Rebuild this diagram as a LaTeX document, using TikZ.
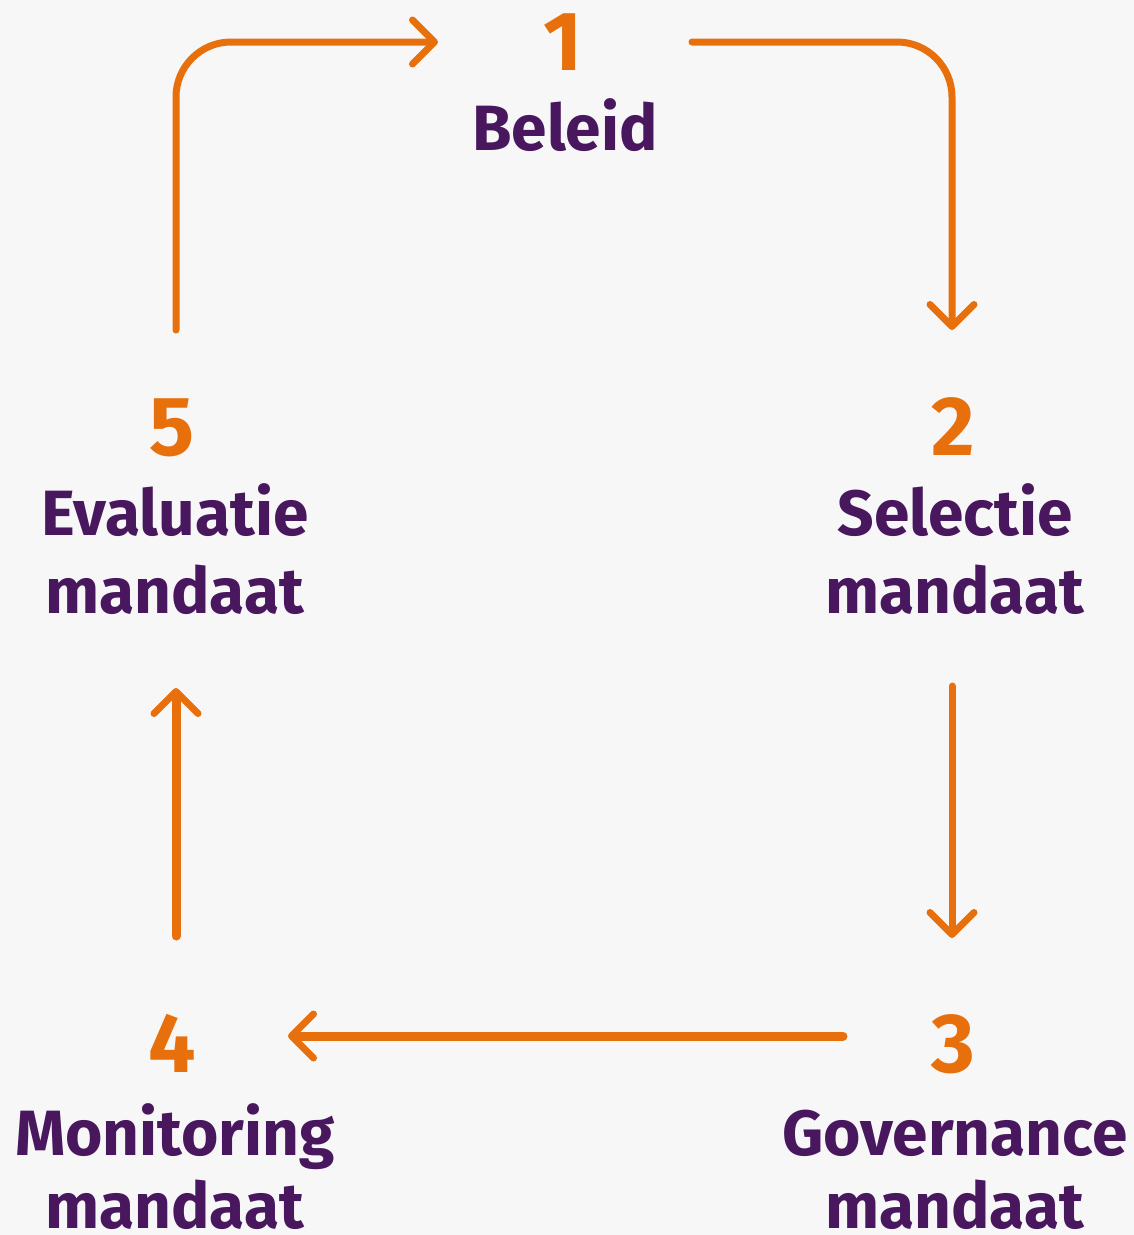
\documentclass[tikz,border=0pt]{standalone}
\usepackage{fontspec}
\setmainfont{Fira Sans}
\usetikzlibrary{arrows.meta}
\definecolor{bgc}{HTML}{F7F7F7}
\definecolor{orng}{HTML}{E8700C}
\definecolor{purp}{HTML}{48175E}
\begin{document}
\begin{tikzpicture}[x=1pt,y=-1pt,
  num/.style={anchor=base,text=orng,font=\fontsize{84}{84}\selectfont\bfseries,inner sep=0pt},
  lbl/.style={anchor=base,text=purp,font=\fontsize{64}{64}\selectfont\bfseries,inner sep=0pt},
  flow/.style={draw=orng,line width=7pt,line cap=round,-{Straight Barb[length=22pt,width=44pt,line width=7pt,round]}}]
\fill[bgc] (0,0) rectangle (1134,1235);
\useasboundingbox (0,0) rectangle (1134,1235);
% numbers
\node[num] (n1) at (563,70) {1};
\node[num] (n2) at (953,455) {2};
\node[num] (n3) at (953,1072) {3};
\node[num] (n4) at (172,1072) {4};
\node[num] (n5) at (172,455) {5};
% labels
\node[lbl] (l1) at (565,150) {Beleid};
\node[lbl] (l2a) at (955,535) {Selectie};
\node[lbl] (l2b) at (955,613) {mandaat};
\node[lbl] (l3a) at (955,1155) {Governance};
\node[lbl] (l3b) at (955,1228) {mandaat};
\node[lbl] (l4a) at (175,1155) {Monitoring};
\node[lbl] (l4b) at (175,1228) {mandaat};
\node[lbl] (l5a) at (175,535) {Evaluatie};
\node[lbl] (l5b) at (175,613) {mandaat};
% connector end points
\coordinate (a5s) at (176,330);
\coordinate (a1e) at (438,42);
\coordinate (a1s) at (692,42);
\coordinate (a2e) at (952,330);
\coordinate (a2s) at (952,686);
\coordinate (a3e) at (952,938);
\coordinate (a3s) at (843,1036);
\coordinate (a4e) at (288,1036);
\coordinate (a4s) at (176,936);
\coordinate (a5e) at (176,688);
\draw[flow,rounded corners=55pt] (a5s) |- (a1e);
\draw[flow,rounded corners=55pt] (a1s) -| (a2e);
\draw[flow] (a2s) -- (a3e);
\draw[flow,line width=9pt] (a3s) -- (a4e);
\draw[flow,line width=9pt] (a4s) -- (a5e);
\end{tikzpicture}
\end{document}
